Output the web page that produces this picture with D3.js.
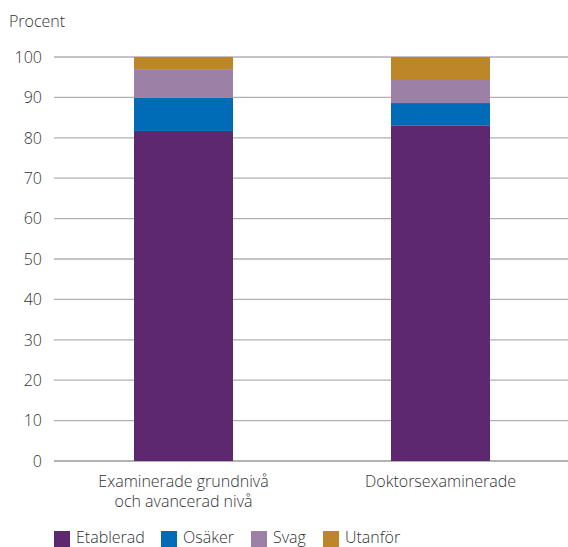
<!DOCTYPE html>
<html><head><meta charset="utf-8">
<script src="https://cdn.jsdelivr.net/npm/d3@7"></script>
<style>body{margin:0;background:#fff;}text{font-family:"Open Sans",Lato,sans-serif;font-weight:300;fill:#333;}</style>
</head><body><svg id="c" width="568" height="547"></svg>
<script>
const categories = [["Examinerade grundnivå","och avancerad nivå"],["Doktorsexaminerade"]];
const seriesNames = ["Etablerad","Osäker","Svag","Utanför"];
const etablerad = [81.7, 83.1];
const osaker = [8.2, 5.5];
const svag = [7.1, 5.7];
const utanfor = [3.0, 5.7];
const colors = ["#5e2870","#006cb7","#9d80a6","#bd8629"];
const yTicks = [0,10,20,30,40,50,60,70,80,90,100];

const svg = d3.select("#c");
const xs = d3.scaleLinear().domain([0,1]).range([183.5,440.5]);
const bw = 99;
const y = d3.scaleLinear().domain([0,100]).range([461,57]);

svg.append("g").selectAll("line").data(yTicks).join("line")
  .attr("x1",54).attr("x2",568).attr("y1",d=>y(d)).attr("y2",d=>y(d))
  .attr("stroke",d=>d===0?"#999":"#b0b0b0").attr("stroke-width",1.3);
svg.append("g").selectAll("text").data(yTicks).join("text")
  .attr("x",42).attr("y",d=>y(d)).attr("dy","0.36em").attr("text-anchor","end")
  .attr("font-size",16).text(d=>d);
svg.append("text").attr("x",9).attr("y",27).attr("font-size",16).text("Procent");

const data = [0,1].map(i=>({i, Etablerad:etablerad[i], "Osäker":osaker[i], Svag:svag[i], "Utanför":utanfor[i]}));
const stack = d3.stack().keys(seriesNames)(data);
svg.append("g").selectAll("g").data(stack).join("g").attr("fill",(d,i)=>colors[i])
  .selectAll("rect").data(d=>d).join("rect")
  .attr("x",d=>xs(d.data.i)-bw/2).attr("width",bw)
  .attr("y",d=>y(d[1])).attr("height",d=>y(d[0])-y(d[1]));

categories.forEach((lines,i)=>{
  const t = svg.append("text").attr("x",xs(i)).attr("y",487).attr("text-anchor","middle").attr("font-size",16);
  lines.forEach((l,j)=>t.append("tspan").attr("x",xs(i)).attr("dy",j?20:0).text(l));
});

const lx = [54,161,251,323];
seriesNames.forEach((s,i)=>{
  svg.append("rect").attr("x",lx[i]).attr("y",531).attr("width",16).attr("height",16).attr("fill",colors[i]);
  svg.append("text").attr("x",lx[i]+22).attr("y",543).attr("font-size",16).text(s);
});
</script></body></html>
